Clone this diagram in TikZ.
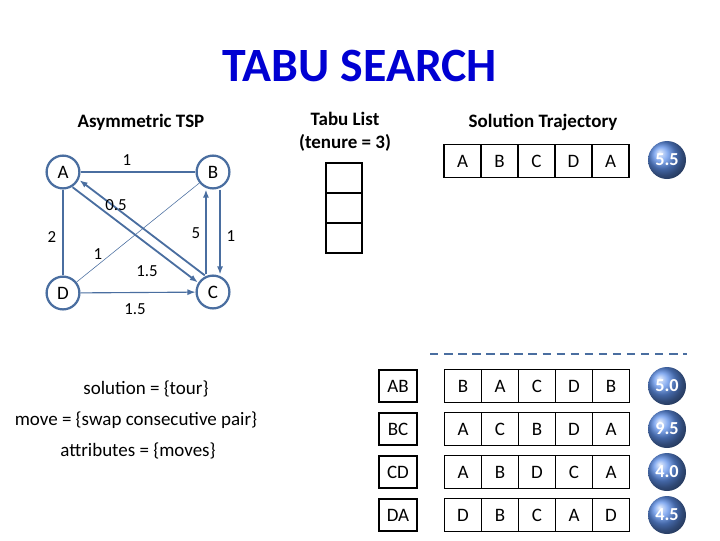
\documentclass[tikz,border=0pt]{standalone}
\usepackage{fontspec}
\setmainfont{Carlito}
\usetikzlibrary{arrows.meta}
\definecolor{edgeblue}{RGB}{74,110,160}
\definecolor{titleblue}{RGB}{0,0,210}
\definecolor{ballblue}{RGB}{95,145,235}

\begin{document}
\begin{tikzpicture}[x=0.025cm, y=-0.025cm, font=\fontsize{13.5}{16}\selectfont,
  city/.style = {draw=edgeblue, line width=1.6pt, circle, inner sep=0pt, minimum size=0.82cm},
  cell/.style = {draw, line width=1pt, minimum width=0.925cm, minimum height=0.82cm, inner sep=0pt, outer sep=0pt},
  tabucell/.style = {draw, line width=1pt, minimum width=0.9cm, minimum height=0.74cm, inner sep=0pt, outer sep=0pt},
  cost/.style = {circle, shading=ball, ball color=ballblue, minimum size=0.95cm, inner sep=0pt, text=white, font=\fontsize{13}{15}\selectfont\bfseries},
  wt/.style = {font=\fontsize{12}{14}\selectfont}]
\useasboundingbox (0,0) rectangle (720,540);

\node[text=titleblue, font=\fontsize{34}{38}\selectfont\bfseries] (title) at (360,66) {TABU SEARCH};
\node[font=\fontsize{13.5}{16}\selectfont\bfseries] (tsp) at (141,122) {Asymmetric TSP};
\node[font=\fontsize{13.5}{16}\selectfont\bfseries, align=center] (tabu) at (345,132) {Tabu List\\(tenure = 3)};
\node[font=\fontsize{13.5}{16}\selectfont\bfseries] (traj) at (543,122) {Solution Trajectory};

% graph
\node[city] (A) at (63,172) {A};
\node[city] (B) at (213,172) {B};
\node[city] (C) at (213,292) {C};
\node[city] (D) at (63,293) {D};
\begin{scope}[edgeblue, line width=0.8pt]
\draw (A) -- (B);
\draw (A) -- (D);
\draw[line width=0.4pt] (D) -- (B);
\draw[-{Latex[length=2mm]}] (D) -- (C);
\draw[-{Latex[length=2mm]}, line width=1.3pt] ([xshift=-2pt,yshift=-2pt]A.south east) -- ([xshift=-2pt,yshift=-2pt]C.north west);
\draw[-{Latex[length=2mm]}, line width=1.3pt] ([xshift=3pt,yshift=3pt]C.north west) -- ([xshift=3pt,yshift=3pt]A.south east);
\draw[-{Latex[length=2mm]}, line width=1.3pt] ([xshift=-5pt]C.north) -- ([xshift=-5pt]B.south);
\draw[-{Latex[length=2mm]}, line width=1.3pt] ([xshift=5pt]B.south) -- ([xshift=5pt]C.north);
\end{scope}
\node[wt] (wab) at (127,160) {1};
\node[wt] (wad) at (52,237) {2};
\node[wt] (wdb) at (98,254) {1};
\node[wt] (wdc) at (135,309) {1.5};
\node[wt] (wac) at (147,271) {1.5};
\node[wt] (wca) at (116,205) {0.5};
\node[wt] (wcb) at (196,233) {5};
\node[wt] (wbc) at (231,236) {1};

% tabu list
\foreach \i in {0,1,2}
  \node[tabucell] (tl\i) at (344,178+30*\i) {};

% current tour
\foreach \c [count=\i from 0] in {A,B,C,D,A}
  \node[cell] (t0\i) at (462.5+37*\i,161) {\c};
\node[cost] (c0) at (667,160) {5.5};

\draw[edgeblue, line width=2pt, dash pattern=on 6pt off 4pt] (430,354) -- (687,354);

% neighbours
\foreach \mv/\tour/\val [count=\r] in {AB/{B,A,C,D,B}/5.0, BC/{A,C,B,D,A}/9.5, CD/{A,B,D,C,A}/4.0, DA/{D,B,C,A,D}/4.5} {
  \node[draw, line width=1pt, minimum width=0.95cm, minimum height=0.8cm, inner sep=0pt] (m\r) at (398,343+43*\r) {\mv};
  \foreach \c [count=\i from 0] in \tour
    \node[cell] (t\r\i) at (463+37*\i,343+43*\r) {\c};
  \node[cost] (c\r) at (667,343+43*\r) {\val};
}

\node (sol) at (146,389) {solution = \{tour\}};
\node (move) at (136,420) {move = \{swap consecutive pair\}};
\node (attr) at (138,451) {attributes = \{moves\}};
\end{tikzpicture}
\end{document}
